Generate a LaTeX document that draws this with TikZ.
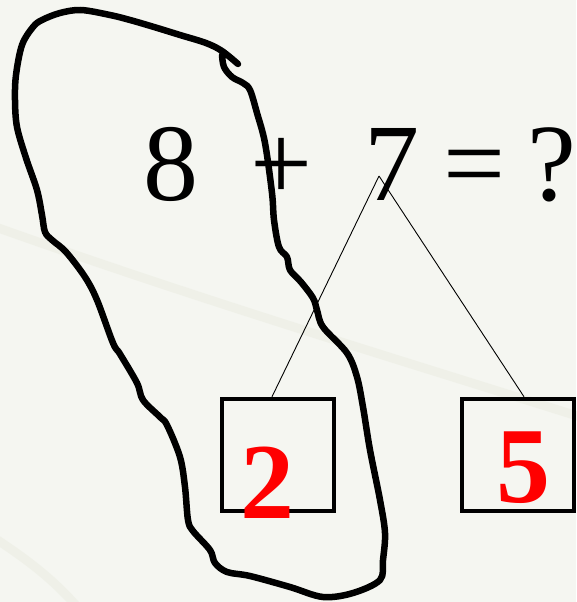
\documentclass[tikz,border=0pt]{standalone}
\usepackage{fontspec}
\setmainfont{Liberation Serif}
\usepackage{xcolor}
\usetikzlibrary{positioning}
\definecolor{paper}{RGB}{245,246,241}
\definecolor{streak}{RGB}{232,234,222}
\definecolor{answerred}{RGB}{255,0,0}
\tikzset{
  sumglyph/.style={anchor=base,inner sep=0pt,font=\fontsize{110}{120}\selectfont},
  partglyph/.style={anchor=base,inner sep=0pt,text=answerred,
    font=\fontsize{108}{118}\selectfont\bfseries},
  numbox/.style={draw=black,line width=4.5pt,minimum size=112pt,inner sep=0pt},
  stem/.style={draw=black,line width=0.9pt},
  lasso/.style={draw=black,line width=6.5pt,line join=round,line cap=round},
  faint/.style={draw=streak,line width=9pt,line cap=round,opacity=0.45}
}

\begin{document}
\begin{tikzpicture}[x=1pt,y=-1pt]
  \useasboundingbox (0,0) rectangle (576,602);
  \fill[paper] (0,0) rectangle (576,602);
  \draw[faint] (-10,225) .. controls (200,300) and (400,360) .. (590,420);
  \draw[faint] (-10,535) .. controls (20,555) and (50,575) .. (80,610);

  % the sum
  \node[sumglyph] (eight) at (171,200) {8};
  \node[sumglyph] (plus) at (282,200) {+};
  \node[sumglyph] (seven) at (392,200) {7};
  \node[sumglyph] (equals) at (475,200) {=};
  \node[sumglyph,anchor=base east] (query) at (577,200) {?};

  % split of the 7
  \coordinate (apex) at (379,176);
  \node[numbox] (boxa) at (278,455) {};
  \node[numbox] (boxb) at (518,455) {};
  \node[partglyph] (two) at (267,518) {2};
  \node[partglyph] (five) at (523,502) {5};
  \draw[stem] (apex) -- ([xshift=-6pt]boxa.north);
  \draw[stem] (apex) -- ([xshift=6pt]boxb.north);

  % hand drawn loop round 8 and 2
  \draw[lasso] plot[smooth,tension=0.55] coordinates {
    (238,64) (222,51) (206,43) (180,35) (154,27) (130,20) (110,15)
    (81,10) (60,13) (42,20) (33,27) (22,45) (16,75) (15,100) (17,127)
    (26,158) (37,190) (42,215) (45,232) (52,240) (66,252) (85,277)
    (97,300) (113,343) (120,354) (137,383) (143,400) (160,417)
    (167,425) (180,457) (185,487) (188,520) (193,531) (210,550)
    (215,563) (227,572) (250,576) (290,587) (323,597) (353,593)
    (380,580) (383,560) (385,533) (380,500) (370,450) (363,407)
    (357,377) (347,353) (323,327) (317,310) (313,298) (301,282)
    (290,270) (287,257) (279,247) (274,220) (272,193) (265,143)
    (257,113) (250,90) (243,83) (232,77) (224,67) (222,55)};
\end{tikzpicture}
\end{document}
